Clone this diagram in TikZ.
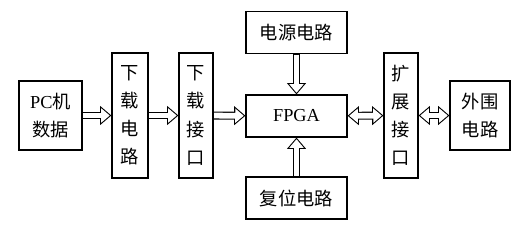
\documentclass[tikz,border=0pt]{standalone}
\usepackage{fontspec}
\setmainfont{Liberation Serif}
\newfontfamily\cjk{Noto Sans CJK SC}
\usetikzlibrary{arrows.meta,positioning}

\begin{document}
\begin{tikzpicture}[x=0.025cm, y=-0.025cm,
    every node/.style={font=\fontsize{13}{20}\selectfont},
    han/.style={font=\fontsize{13}{20}\selectfont\cjk},
    box/.style={draw, line width=0.8pt, inner sep=0pt, align=center},
    wide/.style={box, minimum width=2.525cm, minimum height=1.05cm},
    tall/.style={box, han, minimum width=#1, minimum height=3.125cm},
    side/.style={box, minimum width=#1, minimum height=1.725cm},
    % hollow block arrows: black body, white inside
    link/.style={line width=5.6pt, -{Triangle[length=8pt, width=13pt]},
      postaction={draw=white, line width=4.1pt, -{Triangle[length=6.06pt, width=9.85pt]},
        shorten >=1.19pt, shorten <=0.45pt}},
    both/.style={line width=5.6pt, {Triangle[length=8pt, width=13pt]}-{Triangle[length=8pt, width=13pt]},
      postaction={draw=white, line width=4.1pt,
        {Triangle[length=6.06pt, width=9.85pt]}-{Triangle[length=6.06pt, width=9.85pt]},
        shorten >=1.19pt, shorten <=1.19pt}},
  ]
    \useasboundingbox (0,0) rectangle (523,229);

    % left chain
    \node[side=1.575cm] (pc) at (50.5,115.5) {PC{\cjk 机}\\{\cjk 数据}};
    \node[tall=0.9cm] (dl) at (130,115.5) {下\\载\\电\\路};
    \node[tall=0.85cm] (dif) at (196,115.5) {下\\载\\接\\口};

    % FPGA column
    \node[wide] (fpga) at (296.5,116) {FPGA};
    \node[wide, han] (pwr) at (296.5,32.5) {电源电路};
    \node[wide, han] (rst) at (296.5,198) {复位电路};

    % right chain
    \node[tall=0.85cm] (ext) at (401,115.5) {扩\\展\\接\\口};
    \node[side=1.5cm, han] (per) at (480,115.5) {外围\\电路};

    % connectors
    \draw[link] (pc) -- (dl);
    \draw[link] (dl) -- (dif);
    \draw[link] (dif) -- (fpga);
    \draw[link] (pwr) -- (fpga);
    \draw[link] (rst) -- (fpga);
    \draw[both] (fpga) -- (ext);
    \draw[both] (ext) -- (per);
\end{tikzpicture}
\end{document}
